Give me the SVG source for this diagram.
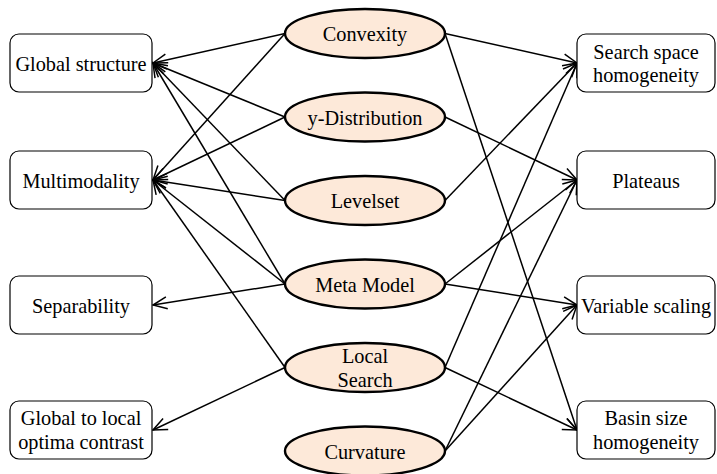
<svg xmlns="http://www.w3.org/2000/svg" width="717" height="474" viewBox="0 0 717 474">
<style>
.box{fill:#fff;stroke:#000;stroke-width:1.2}
.ell{fill:#FDE9D9;stroke:#000;stroke-width:2.4}
.t{font-family:"Liberation Serif","Times New Roman",serif;font-size:20.3px;fill:#000;text-anchor:middle}
.c line{stroke:#000;stroke-width:1.5;marker-end:url(#arr)}
</style>
<defs>
<marker id="arr" viewBox="-16 -8 18 16" refX="0" refY="0" markerWidth="18" markerHeight="16" markerUnits="userSpaceOnUse" orient="auto">
<path d="M-14,-6 L0,0 L-14,6" fill="none" stroke="#000" stroke-width="1.5"/>
</marker>
</defs>
<g class="c" id="connectors">
<line x1="285" y1="33.5" x2="153" y2="63"/>
<line x1="285" y1="33.5" x2="153" y2="180"/>
<line x1="285" y1="117" x2="153" y2="63"/>
<line x1="285" y1="117" x2="153" y2="180"/>
<line x1="285" y1="200.5" x2="153" y2="63"/>
<line x1="285" y1="200.5" x2="153" y2="180"/>
<line x1="285" y1="284" x2="153" y2="63"/>
<line x1="285" y1="284" x2="153" y2="180"/>
<line x1="285" y1="284" x2="153" y2="305"/>
<line x1="285" y1="367.5" x2="153" y2="180"/>
<line x1="285" y1="367.5" x2="153" y2="430"/>
<line x1="445" y1="33.5" x2="577" y2="63"/>
<line x1="445" y1="33.5" x2="577" y2="430"/>
<line x1="445" y1="117" x2="577" y2="180"/>
<line x1="445" y1="200.5" x2="577" y2="63"/>
<line x1="445" y1="284" x2="577" y2="180"/>
<line x1="445" y1="284" x2="577" y2="305"/>
<line x1="445" y1="367.5" x2="577" y2="63"/>
<line x1="445" y1="367.5" x2="577" y2="430"/>
<line x1="445" y1="451" x2="577" y2="180"/>
<line x1="445" y1="451" x2="577" y2="305"/>
</g>
<g id="global-structure"><rect class="box" x="10" y="34" width="142" height="58" rx="9"/><text class="t" x="81" y="71">Global structure</text></g>
<g id="multimodality"><rect class="box" x="10" y="151" width="142" height="58" rx="9"/><text class="t" x="81" y="188">Multimodality</text></g>
<g id="separability"><rect class="box" x="10" y="276" width="142" height="58" rx="9"/><text class="t" x="81" y="313">Separability</text></g>
<g id="global-local"><rect class="box" x="10" y="401" width="142" height="58" rx="9"/><text class="t" x="81" y="425">Global to local</text><text class="t" x="81" y="449">optima contrast</text></g>
<g id="search-space"><rect class="box" x="577" y="34" width="138" height="58" rx="9"/><text class="t" x="646" y="59">Search space</text><text class="t" x="646" y="82">homogeneity</text></g>
<g id="plateaus"><rect class="box" x="577" y="151" width="138" height="58" rx="9"/><text class="t" x="646" y="188">Plateaus</text></g>
<g id="variable-scaling"><rect class="box" x="577" y="276" width="138" height="58" rx="9"/><text class="t" x="646" y="313">Variable scaling</text></g>
<g id="basin-size"><rect class="box" x="577" y="401" width="138" height="58" rx="9"/><text class="t" x="646" y="425">Basin size</text><text class="t" x="646" y="449">homogeneity</text></g>
<g id="convexity"><ellipse class="ell" cx="365" cy="33.5" rx="80" ry="24.5"/><text class="t" x="365" y="41">Convexity</text></g>
<g id="y-distribution"><ellipse class="ell" cx="365" cy="117" rx="80" ry="24.5"/><text class="t" x="365" y="124.5">y-Distribution</text></g>
<g id="levelset"><ellipse class="ell" cx="365" cy="200.5" rx="80" ry="24.5"/><text class="t" x="365" y="208">Levelset</text></g>
<g id="meta-model"><ellipse class="ell" cx="365" cy="284" rx="80" ry="24.5"/><text class="t" x="365" y="291.5">Meta Model</text></g>
<g id="local-search"><ellipse class="ell" cx="365" cy="367.5" rx="80" ry="24.5"/><text class="t" x="365" y="363">Local</text><text class="t" x="365" y="387">Search</text></g>
<g id="curvature"><ellipse class="ell" cx="365" cy="451" rx="80" ry="24.5"/><text class="t" x="365" y="458.5">Curvature</text></g>
</svg>
